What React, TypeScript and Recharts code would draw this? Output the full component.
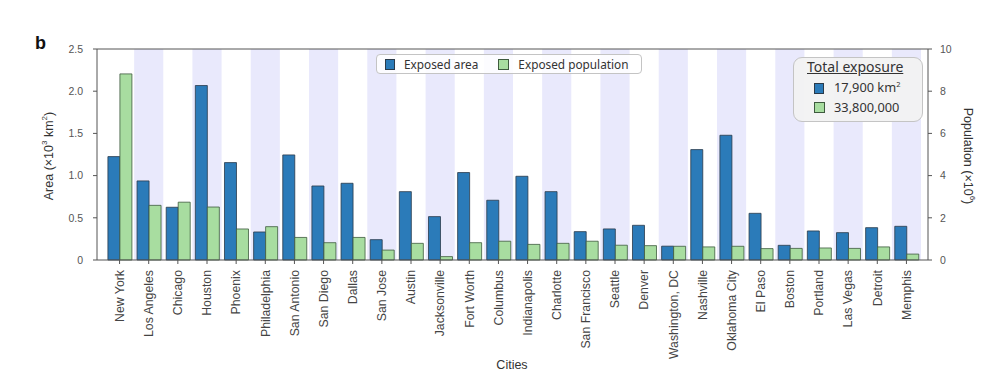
import React from "react";
import { BarChart, Bar, XAxis, YAxis, ReferenceArea, ReferenceLine } from "recharts";

const cities = [
  "New York", "Los Angeles", "Chicago", "Houston", "Phoenix", "Philadelphia", "San Antonio",
  "San Diego", "Dallas", "San Jose", "Austin", "Jacksonville", "Fort Worth", "Columbus",
  "Indianapolis", "Charlotte", "San Francisco", "Seattle", "Denver", "Washington, DC",
  "Nashville", "Oklahoma City", "El Paso", "Boston", "Portland", "Las Vegas", "Detroit", "Memphis",
];
// Exposed area (x10^3 km^2)
const areaValues = [
  1.225, 0.937, 0.625, 2.067, 1.154, 0.332, 1.245, 0.877, 0.909, 0.241, 0.81, 0.514, 1.036, 0.708,
  0.992, 0.81, 0.336, 0.368, 0.411, 0.164, 1.308, 1.478, 0.553, 0.174, 0.344, 0.324, 0.383, 0.399,
];
// Exposed population (x10^6)
const popValues = [
  8.82, 2.59, 2.74, 2.51, 1.47, 1.58, 1.07, 0.82, 1.07, 0.47, 0.79, 0.16, 0.82, 0.89,
  0.74, 0.79, 0.89, 0.70, 0.68, 0.65, 0.62, 0.65, 0.54, 0.55, 0.57, 0.55, 0.62, 0.28,
];
const areaTicks = [0, 0.5, 1, 1.5, 2, 2.5];
const popTicks = [0, 2, 4, 6, 8, 10];

const data = cities.map((c, i) => ({ city: c, area: areaValues[i], pop: popValues[i] }));

const BLUE = "#2b7bb9";
const GREEN = "#a8dda0";
const SHADE = "#e9e9fc";
const AXIS = "#555";
const TICK_FONT = "'Liberation Sans', Arial, sans-serif";
const LEG_FONT = "'Noto Sans', 'Open Sans', sans-serif";

const CityTick = (props: any) => {
  const { x, y, payload } = props;
  return (
    <text
      x={0}
      y={0}
      transform={`translate(${x + 4.3},${y + 4}) rotate(-90)`}
      textAnchor="end"
      fontSize={12.3}
      fontFamily={TICK_FONT}
      fill="#444"
    >
      {payload.value}
    </text>
  );
};

export default function App() {
  return (
    <div style={{ position: "absolute", left: 0, top: 0, width: 1002, height: 390, background: "#fff" }}>
      <BarChart
        width={1002}
        height={390}
        data={data}
        margin={{ top: 49, right: 0, bottom: 0, left: 0 }}
        barCategoryGap="10%"
        barGap={0}
      >
        {cities.map((c, i) =>
          i % 2 === 1 ? (
            <ReferenceArea
              key={c}
              x1={c}
              x2={c}
              y1={0}
              y2={2.5}
              yAxisId="left"
              fill={SHADE}
              fillOpacity={1}
              stroke="none"
              ifOverflow="visible"
            />
          ) : null
        )}
        <XAxis
          dataKey="city"
          interval={0}
          height={130}
          padding={{ left: 8, right: 7 }}
          tick={<CityTick />}
          tickSize={4}
          tickLine={{ stroke: AXIS }}
          axisLine={{ stroke: AXIS }}
        />
        <YAxis
          yAxisId="left"
          orientation="left"
          width={97}
          domain={[0, 2.5]}
          ticks={areaTicks}
          tickFormatter={(v: number) => (v === 0 ? "0" : v.toFixed(1))}
          tickSize={4}
          tickMargin={10}
          tick={{ fontSize: 10.5, fill: "#555", fontFamily: TICK_FONT }}
          tickLine={{ stroke: AXIS }}
          axisLine={{ stroke: AXIS }}
        />
        <YAxis
          yAxisId="right"
          orientation="right"
          width={74}
          domain={[0, 10]}
          ticks={popTicks}
          tickSize={4}
          tickMargin={8}
          tick={{ fontSize: 10.5, fill: "#555", fontFamily: TICK_FONT }}
          tickLine={{ stroke: AXIS }}
          axisLine={{ stroke: AXIS }}
        />
        <ReferenceLine y={2.5} yAxisId="left" stroke={AXIS} strokeWidth={1} ifOverflow="visible" />
        <Bar dataKey="area" yAxisId="left" fill={BLUE} stroke="#2a3a4a" strokeWidth={0.8} isAnimationActive={false} />
        <Bar dataKey="pop" yAxisId="right" fill={GREEN} stroke="#3e5a3e" strokeWidth={0.8} isAnimationActive={false} />
      </BarChart>

      {/* panel letter */}
      <div style={{ position: "absolute", left: 35, top: 33, fontFamily: "'Liberation Sans', Arial, sans-serif", fontWeight: 700, fontSize: 18, color: "#111" }}>b</div>

      {/* left axis label */}
      <div
        style={{
          position: "absolute", left: 48, top: 156, transform: "translate(-50%,-50%) rotate(-90deg)",
          whiteSpace: "nowrap", fontFamily: TICK_FONT, fontSize: 12.5, color: "#333",
        }}
      >
        Area (×10<sup style={{ fontSize: 8 }}>3</sup> km<sup style={{ fontSize: 8 }}>2</sup>)
      </div>

      {/* right axis label */}
      <div
        style={{
          position: "absolute", left: 969, top: 156, transform: "translate(-50%,-50%) rotate(90deg)",
          whiteSpace: "nowrap", fontFamily: TICK_FONT, fontSize: 12.5, color: "#333",
        }}
      >
        Population (×10<sup style={{ fontSize: 8 }}>6</sup>)
      </div>

      {/* x axis label */}
      <div
        style={{
          position: "absolute", left: 512, top: 365, transform: "translate(-50%,-50%)",
          whiteSpace: "nowrap", fontFamily: TICK_FONT, fontSize: 12.5, color: "#333",
        }}
      >
        Cities
      </div>

      {/* series legend */}
      <div
        style={{
          position: "absolute", left: 376, top: 54, width: 266, height: 20, boxSizing: "border-box",
          border: "1px solid #c4c4c4", borderRadius: 4, background: "rgba(255,255,255,0.85)",
          display: "flex", alignItems: "center", fontFamily: LEG_FONT, fontSize: 11.8, color: "#333",
        }}
      >
        <span style={{ display: "inline-block", width: 10, height: 11, background: BLUE, border: "1px solid #2a3a4a", boxSizing: "border-box", marginLeft: 8 }} />
        <span style={{ marginLeft: 9 }}>Exposed area</span>
        <span style={{ display: "inline-block", width: 11, height: 11, background: GREEN, border: "1px solid #3e5a3e", boxSizing: "border-box", marginLeft: 20 }} />
        <span style={{ marginLeft: 9 }}>Exposed population</span>
      </div>

      {/* total exposure legend */}
      <div
        style={{
          position: "absolute", left: 793, top: 57, width: 130, height: 65, boxSizing: "border-box",
          border: "1px solid #c4c4c4", borderRadius: 9, background: "rgba(242,242,242,0.95)",
          fontFamily: LEG_FONT, color: "#333",
        }}
      >
        <div style={{ position: "absolute", left: 13, top: -1, fontSize: 14, textDecoration: "underline", whiteSpace: "nowrap" }}>Total exposure</div>
        <span style={{ position: "absolute", left: 20, top: 25, width: 10, height: 11, background: BLUE, border: "1px solid #2a3a4a", boxSizing: "border-box" }} />
        <div style={{ position: "absolute", left: 40, top: 20, fontSize: 12.8, whiteSpace: "nowrap" }}>
          17,900 km<sup style={{ fontSize: 7.5 }}>2</sup>
        </div>
        <span style={{ position: "absolute", left: 20, top: 44, width: 11, height: 11, background: GREEN, border: "1px solid #3e5a3e", boxSizing: "border-box" }} />
        <div style={{ position: "absolute", left: 40, top: 40, fontSize: 12.8, whiteSpace: "nowrap" }}>33,800,000</div>
      </div>
    </div>
  );
}
